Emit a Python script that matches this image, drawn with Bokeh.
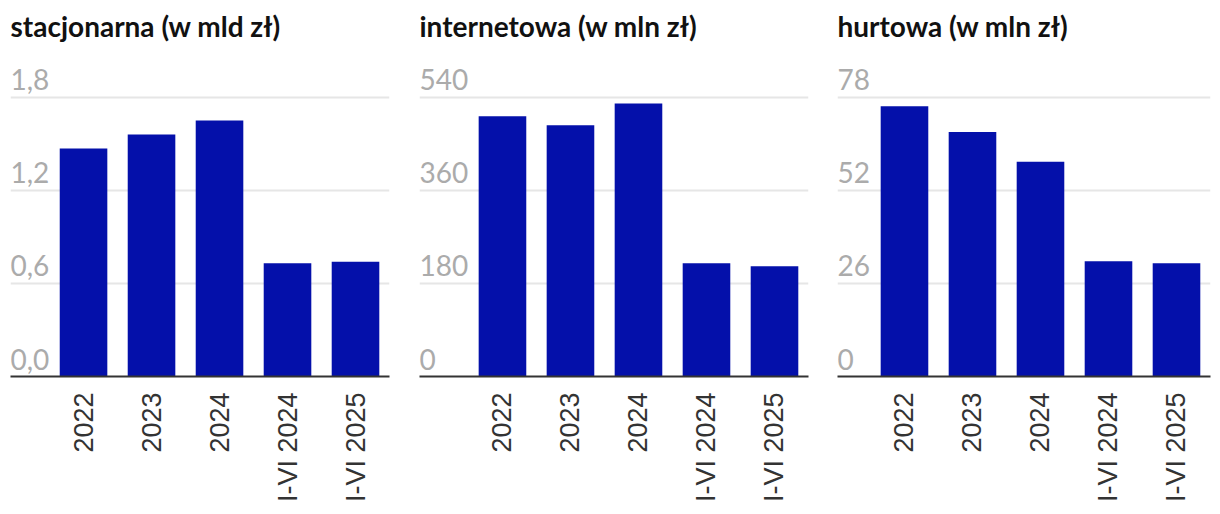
import math
from bokeh.plotting import figure
from bokeh.layouts import row
from bokeh.models import ColumnDataSource, FixedTicker, Range1d, Title
from bokeh.core.properties import value
from bokeh.embed import file_html
from bokeh.resources import INLINE

categories = ["2022", "2023", "2024", "I-VI 2024", "I-VI 2025"]

titles = ["stacjonarna (w mld zł)", "internetowa (w mln zł)", "hurtowa (w mln zł)"]

stacjonarna = [1.47, 1.56, 1.65, 0.73, 0.74]
internetowa = [503, 486, 528, 219, 213]
hurtowa = [75.5, 68.3, 60.0, 32.2, 31.6]

ticks_stacjonarna = [0.0, 0.6, 1.2, 1.8]
labels_stacjonarna = ["0,0", "0,6", "1,2", "1,8"]
ticks_internetowa = [0, 180, 360, 540]
labels_internetowa = ["0", "180", "360", "540"]
ticks_hurtowa = [0, 26, 52, 78]
labels_hurtowa = ["0", "26", "52", "78"]

BAR = "#0410AA"

def panel(title, vals, ticks, labels, y_end, x_start, width, bl, br):
    xs = list(range(len(categories)))
    p = figure(width=width, height=510, output_backend="svg", toolbar_location=None,
               x_range=Range1d(x_start, 4.5), y_range=Range1d(0, y_end),
               min_border_left=bl, min_border_right=br, min_border_top=46,
               min_border_bottom=134, y_axis_location=None)
    p.outline_line_color = None
    p.background_fill_color = "white"
    p.border_fill_color = "white"
    src = ColumnDataSource(dict(x=xs, top=vals, cat=categories))
    p.vbar(x="x", top="top", width=0.7, bottom=0, source=src, color=BAR, line_color=None)
    p.xgrid.visible = False
    p.ygrid.ticker = FixedTicker(ticks=ticks)
    p.ygrid.grid_line_color = "#E6E6E6"
    p.ygrid.grid_line_width = 2
    lsrc = ColumnDataSource(dict(x=[x_start] * len(ticks), y=ticks, t=labels))
    p.text(x="x", y="y", text="t", source=lsrc, text_font=value("Lato"),
           text_font_size="28px", text_color="#ABABAB", text_baseline="bottom",
           text_align="left", y_offset=-7)
    ax = p.xaxis[0]
    ax.ticker = FixedTicker(ticks=xs)
    ax.major_label_overrides = {i: c for i, c in enumerate(categories)}
    ax.major_label_orientation = math.pi / 2
    ax.major_label_text_font = "Liberation Sans"
    ax.major_label_text_font_size = "27px"
    ax.major_label_text_color = "#333333"
    ax.major_label_standoff = 10
    ax.major_tick_line_color = None
    ax.minor_tick_line_color = None
    ax.axis_line_color = "#333333"
    ax.axis_line_width = 2
    p.add_layout(Title(text=title, text_font="Lato", text_font_style="bold",
                       text_font_size="28px", text_color="#111111", align="left",
                       offset=0, standoff=12), "above")
    return p

p1 = panel(titles[0], stacjonarna, ticks_stacjonarna, labels_stacjonarna, 2.114, -1.074, 404, 10, 15)
p2 = panel(titles[1], internetowa, ticks_internetowa, labels_internetowa, 634.2, -1.22, 419, 15, 15)
p3 = panel(titles[2], hurtowa, ticks_hurtowa, labels_hurtowa, 91.6, -0.985, 395, 14, 8)

p = row(p1, p2, p3, spacing=0)
open("out.html", "w").write(file_html(p, INLINE))
